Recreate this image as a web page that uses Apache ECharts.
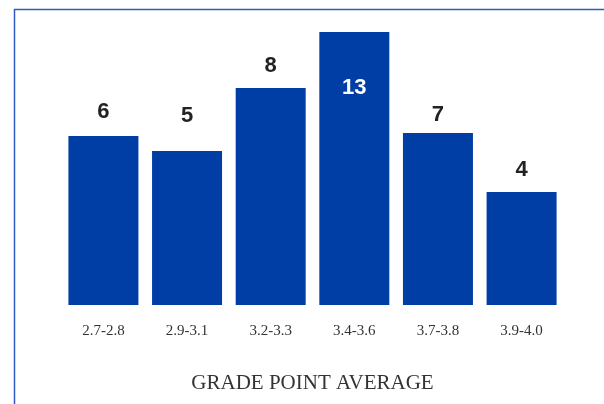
<!DOCTYPE html>
<html>
<head>
<meta charset="utf-8">
<script src="https://cdn.jsdelivr.net/npm/echarts@6/dist/echarts.min.js"></script>
<style>html,body{margin:0;padding:0;background:#fff}#c{width:604px;height:404px}</style>
</head>
<body>
<div id="c"></div>
<script>
// GPA ranges (categories)
var categories = ['2.7-2.8', '2.9-3.1', '3.2-3.3', '3.4-3.6', '3.7-3.8', '3.9-4.0'];
// counts printed on the bars
var counts = [6, 5, 8, 13, 7, 4];
// bar lengths as drawn in the picture, on a scale where the tallest bar = 13
var barLengths = [8.05, 7.33, 10.33, 13, 8.19, 5.38];
var axisTitle = 'GRADE POINT AVERAGE';

// label styling (kept separate from data)
var labelGaps = [13, 24, 11, 45, 7, 11];
var labelInside = [false, false, false, true, false, false];

var chart = echarts.init(document.getElementById('c'), null, {renderer: 'canvas'});
var seriesData = barLengths.map(function (v, i) {
  return {
    value: v,
    label: {
      show: true,
      formatter: String(counts[i]),
      position: labelInside[i] ? 'insideTop' : 'top',
      distance: labelGaps[i],
      color: labelInside[i] ? '#ffffff' : '#222222',
      fontFamily: 'Liberation Sans, Arial, sans-serif',
      fontWeight: 'bold',
      fontSize: 22
    }
  };
});
chart.setOption({
  animation: false,
  backgroundColor: '#ffffff',
  grid: {left: 61.6, right: 40.6, top: 32, bottom: 99, containLabel: false},
  xAxis: {
    type: 'category',
    data: categories,
    axisLine: {show: false},
    axisTick: {show: false},
    axisLabel: {
      margin: 19,
      color: '#333333',
      fontFamily: 'Liberation Serif, Times New Roman, serif',
      fontSize: 15
    },
    name: axisTitle,
    nameLocation: 'middle',
    nameGap: 68,
    nameTextStyle: {
      color: '#333333',
      fontFamily: 'Liberation Serif, Times New Roman, serif',
      fontSize: 21
    }
  },
  yAxis: {
    type: 'value', min: 0, max: 13, show: false,
    splitLine: {show: false}
  },
  series: [{
    type: 'bar',
    data: seriesData,
    barWidth: 70,
    itemStyle: {color: '#003EA5'}
  }],
  graphic: [{
    type: 'polyline',
    shape: {points: [[14.5, 410], [14.5, 9.5], [610, 9.5]]},
    style: {stroke: '#2F5BC4', lineWidth: 1.5, fill: null},
    silent: true
  }]
});
</script>
</body>
</html>
